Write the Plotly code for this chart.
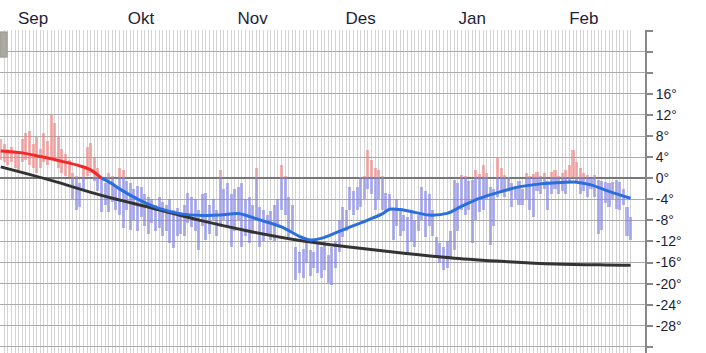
import plotly.graph_objects as go

# ---- data ----
months = ["Sep", "Okt", "Nov", "Des", "Jan", "Feb"]
month_mid_day = [9, 39, 70, 100, 131, 162]   # day index of mid-month (day 0 = 6 Sep)

# daily max / min temperature, day 0 .. 175
day_max = [7.5, 6.5, 5.5, 6.0, 5.0, 4.5, 7.5, 8.5, 9.0, 6.5,
           7.8, 5.5, 8.6, 7.0, 12.0, 10.5, 8.0, 5.5, 4.5, 3.5,
           1.0, 0.5, -1.0, 2.0, 6.0, 6.7, 4.0, 2.0, 0.2, -1.0,
           1.0, 0.5, -1.5, 1.9, 1.5, -0.5, -1.0, -2.0, -1.5, -1.6,
           -3.0, -3.5, -4.0, -5.0, -3.5, -4.5, -5.0, -4.0, -6.0, -5.7,
           -6.5, -5.0, -2.8, -3.5, -4.0, -6.0, -3.0, -2.8, -5.0, -4.0,
           -6.0, 1.6, -2.0, -0.9, -3.0, -2.0, -1.6, -1.0, -4.0, -3.5,
           -5.0, 1.9, -5.4, -6.0, -7.0, -6.3, -5.0, -4.0, 2.5, 0.5,
           -3.5, -5.0, -13.0, -14.0, -13.5, -12.0, -13.6, -14.0, -12.5, -13.0,
           -12.0, -14.5, -13.0, -12.0, -8.0, -5.4, -6.0, -1.6, -2.5, -1.6,
           0.2, 0.5, 5.4, 3.5, 1.9, 1.5, 0.5, -2.8, -3.0, -6.0,
           -4.0, -6.0, -7.0, -7.3, -6.0, -8.0, -7.0, -1.6, -2.5, -3.0,
           -6.0, -11.1, -12.3, -13.0, -12.0, -10.0, -0.3, -1.0, 0.6, 0.4,
           -0.5, -0.3, 1.6, 0.8, 2.5, 1.0, -1.6, -2.0, 3.8, 2.0,
           0.6, 0.2, -1.0, -1.5, -0.5, -2.0, 1.0, 0.5, 0.8, 1.2,
           0.5, 1.0, -0.5, 1.2, 1.6, 0.5, 1.0, 1.5, 2.5, 5.4,
           3.0, 2.0, 1.0, 0.6, 0.0, 0.6, -0.3, -0.5, -0.7, -1.0,
           -0.7, -0.3, -0.7, -2.0, -5.4, -7.3]
day_min = [3.5, 3.0, 2.5, 3.0, 2.0, 1.5, 3.0, 3.5, 2.5, 2.0,
           1.0, 2.0, 3.0, 2.5, 4.0, 3.5, 2.0, 1.0, 0.5, 0.2,
           -4.0, -6.0, -5.5, -2.0, 0.5, 1.0, -0.5, -2.5, -6.5, -5.0,
           -6.5, -4.5, -6.0, -7.0, -9.5, -6.0, -9.8, -8.0, -10.0, -7.3,
           -9.0, -10.5, -8.5, -10.0, -9.5, -11.0, -10.0, -12.3, -13.2, -11.0,
           -10.5, -11.0, -8.5, -9.2, -10.0, -13.6, -9.0, -11.7, -10.5, -8.0,
           -11.0, -9.2, -8.0, -9.0, -13.0, -10.0, -8.0, -13.0, -11.0, -12.3,
           -10.5, -8.0, -13.0, -12.0, -11.0, -11.8, -12.0, -9.0, -6.0, -7.0,
           -11.2, -10.0, -19.3, -18.0, -19.0, -16.0, -18.5, -17.0, -18.0, -19.0,
           -17.5, -19.9, -20.3, -17.0, -14.0, -11.1, -10.0, -6.0, -7.0, -6.0,
           -5.4, -4.0, -2.0, -3.0, -6.0, -4.0, -6.0, -6.6, -6.0, -11.7,
           -9.0, -11.0, -10.0, -14.2, -12.0, -13.0, -10.0, -8.0, -11.2, -9.0,
           -11.0, -15.0, -16.0, -17.4, -17.0, -15.0, -13.6, -10.0, -6.0, -7.0,
           -6.0, -12.3, -8.0, -6.5, -6.0, -4.0, -12.7, -9.0, -3.5, -2.5,
           -3.5, -2.5, -5.4, -4.0, -5.0, -5.0, -4.0, -6.0, -7.3, -2.5,
           -3.0, -2.0, -6.0, -3.0, -2.0, -3.0, -2.5, -3.0, -0.7, 0.0,
           -1.0, -3.0, -2.5, -3.5, -2.0, -3.5, -10.5, -9.8, -4.7, -5.4,
           -4.0, -5.8, -6.0, -5.0, -11.0, -11.7]

# smoothed mean temperature (read at selected days)
mean_day = [0, 6, 11, 17, 22, 25, 28, 31, 33, 39, 44, 50, 56, 61, 66, 69, 72,
            78, 83, 86, 89, 94, 100, 106, 108, 111, 117, 119, 124, 128, 133,
            139, 144, 150, 156, 160, 164, 169, 175]
mean_val = [5.17, 4.80, 4.10, 3.19, 2.33, 1.57, 0.0, -1.08, -2.03, -4.31,
            -5.73, -6.77, -7.06, -7.0, -6.7, -7.25, -7.91, -9.24, -11.04,
            -11.71, -11.42, -10.09, -8.48, -6.77, -5.9, -5.95, -6.77, -7.0,
            -6.68, -5.35, -3.83, -2.54, -1.65, -1.08, -0.83, -0.76, -1.27,
            -2.50, -3.80]

# normal temperature
normal_day = [0, 14, 28, 42, 56, 70, 84, 98, 112, 126, 140, 154, 168, 175]
normal_val = [2.14, -0.42, -3.26, -5.64, -8.10, -10.19, -11.90, -13.13,
              -14.23, -15.16, -15.79, -16.26, -16.45, -16.49]

y_ticks = list(range(28, -33, -4))
y_ticktext = ["" if (v > 16 or v < -28) else f"{v}°" for v in y_ticks]

# ---- derived ----
days = list(range(len(day_max)))
pos_base = [max(lo, 0) for lo in day_min]
pos_h = [max(hi, 0) - max(lo, 0) for hi, lo in zip(day_max, day_min)]
neg_base = [min(lo, 0) for lo in day_min]
neg_h = [min(hi, 0) - min(lo, 0) for hi, lo in zip(day_max, day_min)]

split = mean_val.index(0.0)
red_x, red_y = mean_day[:split + 1], mean_val[:split + 1]
blue_x, blue_y = mean_day[split:], mean_val[split:]

fig = go.Figure()
fig.add_trace(go.Bar(x=days, y=neg_h, base=neg_base, width=0.85,
                     marker=dict(color="rgba(125,125,228,0.58)", line=dict(width=0)),
                     hoverinfo="skip"))
fig.add_trace(go.Bar(x=days, y=pos_h, base=pos_base, width=0.85,
                     marker=dict(color="rgba(238,125,125,0.58)", line=dict(width=0)),
                     hoverinfo="skip"))
fig.add_trace(go.Scatter(x=normal_day, y=normal_val, mode="lines",
                         line=dict(color="#333333", width=3, shape="spline")))
fig.add_trace(go.Scatter(x=red_x, y=red_y, mode="lines",
                         line=dict(color="#f02a2a", width=3, shape="spline",
                                   smoothing=0.9)))
fig.add_trace(go.Scatter(x=blue_x, y=blue_y, mode="lines",
                         line=dict(color="#2a6fdc", width=3, shape="spline",
                                   smoothing=0.9)))

font_family = "Liberation Sans, Arial, sans-serif"
fig.update_layout(
    width=706, height=353,
    margin=dict(l=0, r=61, t=30, b=0),
    paper_bgcolor="white", plot_bgcolor="white",
    showlegend=False, barmode="overlay", bargap=0,
    font=dict(family=font_family, color="#222222"),
    xaxis=dict(
        range=[-0.2, 179.0], side="top",
        tickmode="array", tickvals=month_mid_day, ticktext=months,
        tickfont=dict(size=17, color="#1e1e3c"), ticks="", showgrid=False,
        zeroline=False, showline=False, ticklabelstandoff=2,
        minor=dict(tickmode="array", tickvals=days, showgrid=True,
                   gridcolor="#d4d4d4", gridwidth=1, ticks=""),
    ),
    yaxis=dict(
        range=[-33.15, 28.1], side="right",
        tickmode="array", tickvals=y_ticks, ticktext=y_ticktext,
        tickfont=dict(size=14, color="#1e1e3c"),
        showgrid=True, gridcolor="#ababab", gridwidth=1,
        zeroline=True, zerolinecolor="#777777", zerolinewidth=2,
        showline=True, linecolor="#888888", linewidth=2,
        ticks="outside", ticklen=6, tickcolor="#888888", tickwidth=2,
    ),
    shapes=[dict(type="rect", xref="paper", yref="paper",
                 x0=0, x1=0.011, y0=0.916, y1=0.994,
                 fillcolor="#aaaaa2", line=dict(color="#999990", width=1))],
)

fig.write_html("out.html")
